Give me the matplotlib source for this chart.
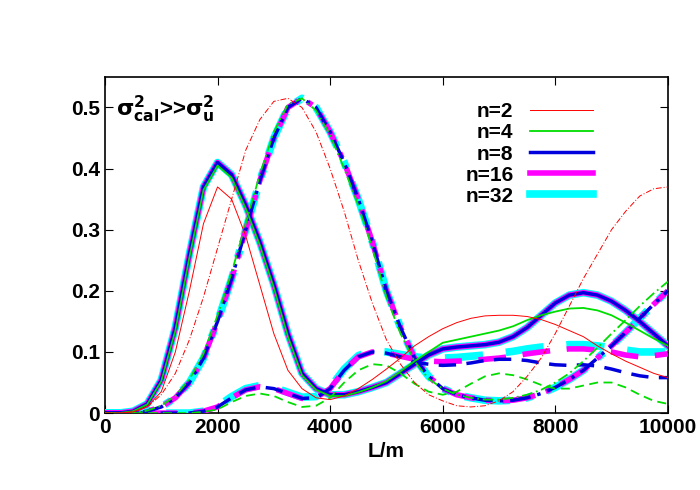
import matplotlib
matplotlib.use("Agg")
from matplotlib import pyplot as plt

L = list(range(0, 10001, 250))

labels = ["n=2", "n=4", "n=8", "n=16", "n=32"]
colors = ["red", "#00dd00", "#0000dd", "magenta", "cyan"]
widths = [0.7, 1.3, 2.5, 4.0, 5.5]

# solid curves
solid_2 = [0, 0, 0.002, 0.01, 0.035, 0.1, 0.2, 0.31, 0.37, 0.35, 0.29, 0.21, 0.13, 0.07,
           0.04, 0.025, 0.022, 0.028, 0.04, 0.055, 0.072, 0.09, 0.11, 0.125, 0.138, 0.148,
           0.155, 0.159, 0.16, 0.16, 0.158, 0.153, 0.145, 0.135, 0.125, 0.11, 0.097, 0.085,
           0.075, 0.065, 0.058]
solid_4 = [0, 0, 0.003, 0.014, 0.052, 0.135, 0.255, 0.365, 0.405, 0.385, 0.335, 0.275,
           0.205, 0.125, 0.062, 0.038, 0.028, 0.028, 0.034, 0.042, 0.052, 0.068, 0.085, 0.1,
           0.115, 0.12, 0.125, 0.13, 0.135, 0.142, 0.152, 0.16, 0.166, 0.171, 0.172, 0.168,
           0.16, 0.148, 0.135, 0.122, 0.11]
solid_8 = [0, 0, 0.003, 0.015, 0.054, 0.14, 0.26, 0.37, 0.41, 0.39, 0.34, 0.28, 0.21, 0.13,
           0.065, 0.04, 0.03, 0.03, 0.035, 0.042, 0.05, 0.065, 0.08, 0.095, 0.105, 0.108,
           0.11, 0.112, 0.116, 0.125, 0.14, 0.16, 0.18, 0.193, 0.197, 0.193, 0.183, 0.168,
           0.15, 0.13, 0.11]
solid_16 = solid_8
solid_32 = solid_8

# dash-dot curves
dd_2 = [0, 0, 0.002, 0.01, 0.03, 0.065, 0.12, 0.19, 0.27, 0.35, 0.43, 0.48, 0.51, 0.515,
        0.5, 0.46, 0.4, 0.33, 0.25, 0.18, 0.12, 0.08, 0.05, 0.03, 0.02, 0.012, 0.01, 0.012,
        0.02, 0.035, 0.06, 0.09, 0.13, 0.175, 0.22, 0.26, 0.3, 0.33, 0.355, 0.367, 0.37]
dd_4 = [0, 0, 0, 0.004, 0.012, 0.028, 0.055, 0.097, 0.16, 0.23, 0.31, 0.39, 0.46, 0.505,
        0.515, 0.495, 0.455, 0.4, 0.34, 0.27, 0.19, 0.13, 0.085, 0.056, 0.04, 0.03, 0.025,
        0.022, 0.022, 0.025, 0.03, 0.038, 0.05, 0.065, 0.085, 0.107, 0.13, 0.152, 0.175,
        0.196, 0.215]
dd_8 = [0, 0, 0, 0.003, 0.01, 0.025, 0.05, 0.09, 0.15, 0.22, 0.3, 0.38, 0.45, 0.5, 0.515,
        0.5, 0.46, 0.41, 0.35, 0.28, 0.2, 0.14, 0.09, 0.06, 0.04, 0.03, 0.025, 0.021, 0.02,
        0.021, 0.025, 0.032, 0.042, 0.055, 0.07, 0.09, 0.11, 0.132, 0.155, 0.178, 0.2]
dd_16 = dd_8
dd_32 = dd_8

# dashed curves
da_4 = [0, 0, 0, 0, 0, 0, 0, 0.002, 0.006, 0.018, 0.028, 0.032, 0.028, 0.018, 0.01,
        0.012, 0.025, 0.05, 0.07, 0.08, 0.078, 0.065, 0.048, 0.035, 0.03, 0.035, 0.048,
        0.06, 0.065, 0.062, 0.055, 0.046, 0.04, 0.04, 0.045, 0.05, 0.05, 0.042, 0.03,
        0.02, 0.015]
da_8 = [0, 0, 0, 0, 0, 0, 0, 0.003, 0.01, 0.025, 0.038, 0.043, 0.04, 0.032, 0.024,
        0.025, 0.04, 0.07, 0.092, 0.1, 0.098, 0.092, 0.083, 0.08, 0.078, 0.079, 0.082,
        0.086, 0.088, 0.088, 0.086, 0.082, 0.079, 0.078, 0.079, 0.077, 0.072, 0.066,
        0.061, 0.058, 0.058]
da_16 = [0, 0, 0, 0, 0, 0, 0, 0.003, 0.01, 0.025, 0.038, 0.043, 0.04, 0.032, 0.024,
         0.025, 0.04, 0.07, 0.092, 0.1, 0.098, 0.093, 0.088, 0.085, 0.084, 0.085, 0.086,
         0.088, 0.09, 0.093, 0.097, 0.1, 0.103, 0.105, 0.105, 0.103, 0.1, 0.095, 0.092,
         0.094, 0.097]
da_32 = [0, 0, 0, 0, 0, 0, 0, 0.003, 0.011, 0.027, 0.04, 0.045, 0.042, 0.034, 0.026,
         0.027, 0.042, 0.072, 0.094, 0.102, 0.1, 0.096, 0.092, 0.09, 0.09, 0.091, 0.093,
         0.095, 0.098, 0.101, 0.105, 0.108, 0.11, 0.112, 0.112, 0.11, 0.107, 0.103, 0.1,
         0.1, 0.1]

solids = [solid_2, solid_4, solid_8, solid_16, solid_32]
dashdots = [dd_2, dd_4, dd_8, dd_16, dd_32]
dasheds = [None, da_4, da_8, da_16, da_32]

plt.rcParams["font.family"] = "Liberation Sans"
plt.rcParams["font.weight"] = "bold"
fig = plt.figure(figsize=(7, 4.9), dpi=100)
ax = fig.add_axes([0.15, 0.157, 0.804, 0.686])

for i in range(5):
    z = 10 - i
    ax.plot(L, solids[i], color=colors[i], lw=widths[i], zorder=z, label=labels[i])
    ax.plot(L, dashdots[i], color=colors[i], lw=widths[i], ls=(0, (6, 2, 1, 2)), zorder=z)
    if dasheds[i] is not None:
        ax.plot(L, dasheds[i], color=colors[i], lw=widths[i], ls=(0, (5, 3)), zorder=z)

ax.set_xlim(0, 10000)
ax.set_ylim(0, 0.55)
ax.set_xticks([0, 2000, 4000, 6000, 8000, 10000])
ax.set_yticks([0, 0.1, 0.2, 0.3, 0.4, 0.5])
ax.set_yticklabels(["0", "0.1", "0.2", "0.3", "0.4", "0.5"])
ax.tick_params(direction="in", top=True, right=True, labelsize=15, length=6)
ax.set_xlabel("L/m", fontsize=15, fontweight="bold")
for s in ax.spines.values():
    s.set_linewidth(1.2)

ax.text(0.02, 0.95, r"$\mathbf{\sigma^2_{cal}}$>>$\mathbf{\sigma^2_{u}}$",
        transform=ax.transAxes, fontsize=16, va="top")

ax.legend(loc="upper right", bbox_to_anchor=(0.9, 0.98), frameon=False,
          markerfirst=False, fontsize=15, handlelength=3.0, labelspacing=0.1)

fig.savefig("out.png")
